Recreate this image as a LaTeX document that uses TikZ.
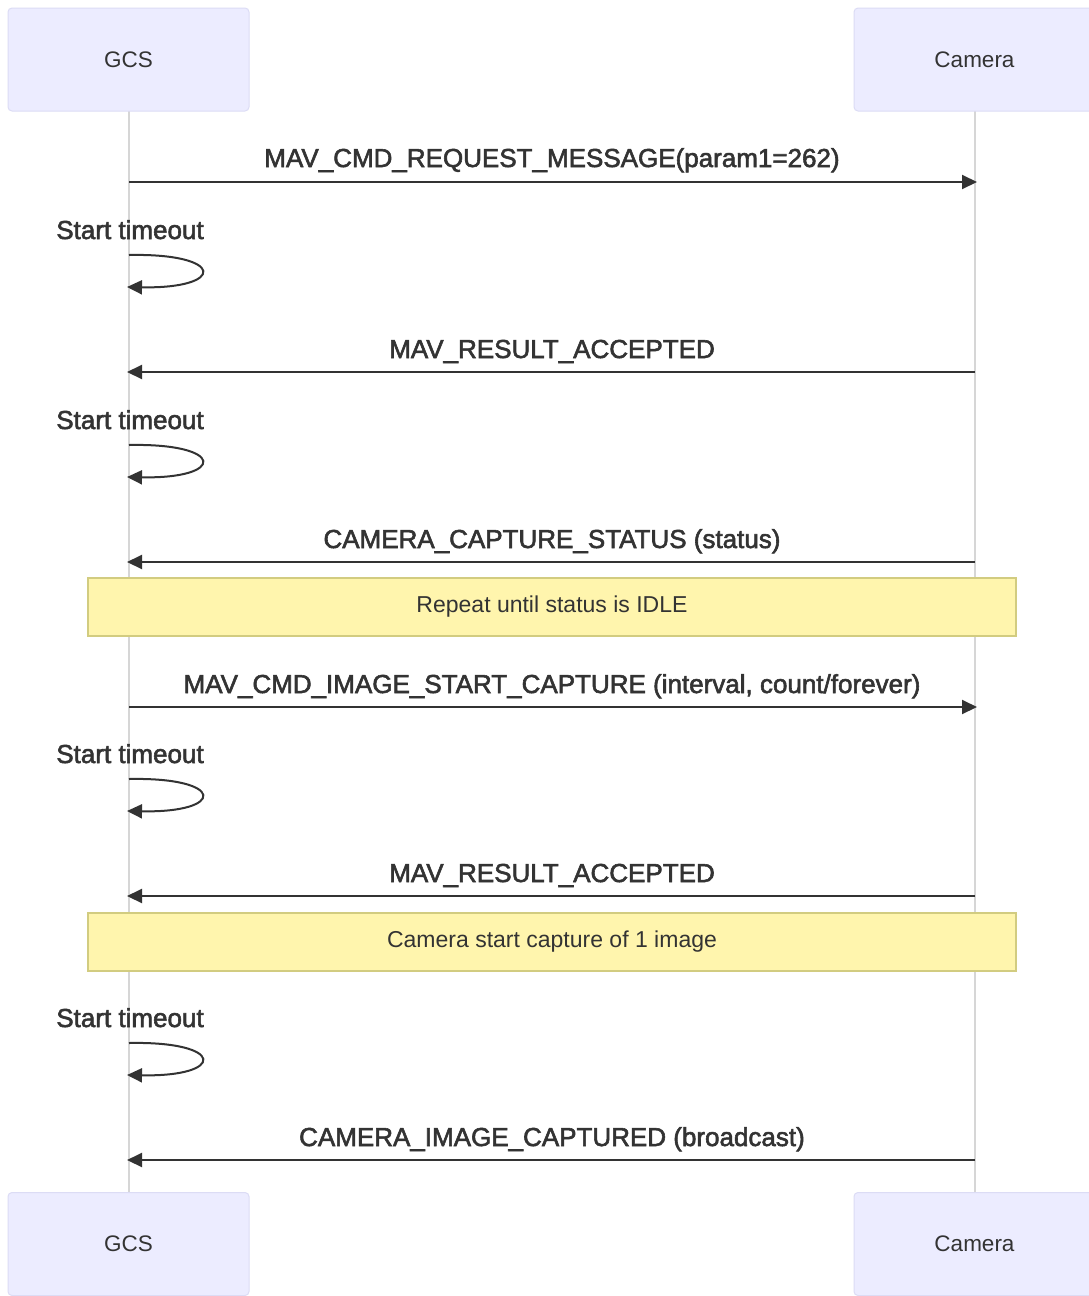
\documentclass[tikz,border=0pt]{standalone}
\usepackage{fontspec}
\setmainfont{Liberation Sans}
\newfontfamily\msgfont[FakeBold=2.2]{Liberation Sans}
\usetikzlibrary{arrows.meta}
\definecolor{actorfill}{HTML}{ECECFF}
\definecolor{actorline}{HTML}{DCDCF5}
\definecolor{notefill}{HTML}{FFF5AD}
\definecolor{noteline}{HTML}{D2CC80}
\definecolor{ink}{HTML}{333333}
\definecolor{life}{HTML}{D6D6D6}
\tikzset{
  actor/.style={draw=actorline, fill=actorfill, line width=1pt, rounded corners=4pt,
    minimum width=241pt, minimum height=103pt, inner sep=0pt, text=ink,
    font=\fontsize{22.5}{27}\selectfont},
  notebox/.style={draw=noteline, fill=notefill, line width=1.2pt,
    minimum width=928pt, minimum height=58pt, inner sep=0pt, text=ink,
    font=\fontsize{23}{27}\selectfont},
  msglabel/.style={text=ink, inner sep=0pt, anchor=base, font=\msgfont\fontsize{26}{31}\selectfont},
  msg/.style={draw=ink, line width=2pt, -{Triangle[length=15pt,width=14pt]}},
  lifeline/.style={draw=life, line width=1.5pt},
}
\begin{document}
\begin{tikzpicture}[x=1pt,y=-1pt]
\useasboundingbox[fill=white] (0,0) rectangle (1089,1296);
% lifelines
\coordinate (gtop) at (129,111);
\coordinate (gbot) at (129,1192);
\coordinate (ctop) at (975,111);
\coordinate (cbot) at (975,1192);
\draw[lifeline] (gtop) -- (gbot);
\draw[lifeline] (ctop) -- (cbot);
% actors
\node[actor] (gcsT) at (128.5,59.5) {GCS};
\node[actor] (camT) at (974.5,59.5) {Camera};
\node[actor] (gcsB) at (128.5,1244) {GCS};
\node[actor] (camB) at (974.5,1244) {Camera};
% message 1
\coordinate (g1) at (129,182); \coordinate (c1) at (977,182);
\node[msglabel] (m1) at (552,167) {MAV\_CMD\_REQUEST\_MESSAGE(param1=262)};
\draw[msg] (g1) -- (c1);
% timeout 1
\node[msglabel] (t1) at (130,239) {Start timeout};
\coordinate (l1a) at (129,255); \coordinate (l1b) at (127,287);
\draw[msg] (l1a) .. controls (226,253) and (226,289) .. (l1b);
% message 2
\coordinate (c2) at (975,372); \coordinate (g2) at (127,372);
\node[msglabel] (m2) at (552,358) {MAV\_RESULT\_ACCEPTED};
\draw[msg] (c2) -- (g2);
% timeout 2
\node[msglabel] (t2) at (130,429) {Start timeout};
\coordinate (l2a) at (129,445); \coordinate (l2b) at (127,477);
\draw[msg] (l2a) .. controls (226,443) and (226,479) .. (l2b);
% message 3
\coordinate (c3) at (975,562); \coordinate (g3) at (127,562);
\node[msglabel] (m3) at (552,548) {CAMERA\_CAPTURE\_STATUS (status)};
\draw[msg] (c3) -- (g3);
% note 1
\node[notebox] (n1) at (552,607) {Repeat until status is IDLE};
% message 4
\coordinate (g4) at (129,707); \coordinate (c4) at (977,707);
\node[msglabel] (m4) at (552,693) {MAV\_CMD\_IMAGE\_START\_CAPTURE (interval, count/forever)};
\draw[msg] (g4) -- (c4);
% timeout 3
\node[msglabel] (t3) at (130,763) {Start timeout};
\coordinate (l3a) at (129,779); \coordinate (l3b) at (127,811);
\draw[msg] (l3a) .. controls (226,777) and (226,813) .. (l3b);
% message 5
\coordinate (c5) at (975,896); \coordinate (g5) at (127,896);
\node[msglabel] (m5) at (552,882) {MAV\_RESULT\_ACCEPTED};
\draw[msg] (c5) -- (g5);
% note 2
\node[notebox] (n2) at (552,942) {Camera start capture of 1 image};
% timeout 4
\node[msglabel] (t4) at (130,1027) {Start timeout};
\coordinate (l4a) at (129,1043); \coordinate (l4b) at (127,1075);
\draw[msg] (l4a) .. controls (226,1041) and (226,1077) .. (l4b);
% message 6
\coordinate (c6) at (975,1160); \coordinate (g6) at (127,1160);
\node[msglabel] (m6) at (552,1146) {CAMERA\_IMAGE\_CAPTURED (broadcast)};
\draw[msg] (c6) -- (g6);
\end{tikzpicture}
\end{document}
